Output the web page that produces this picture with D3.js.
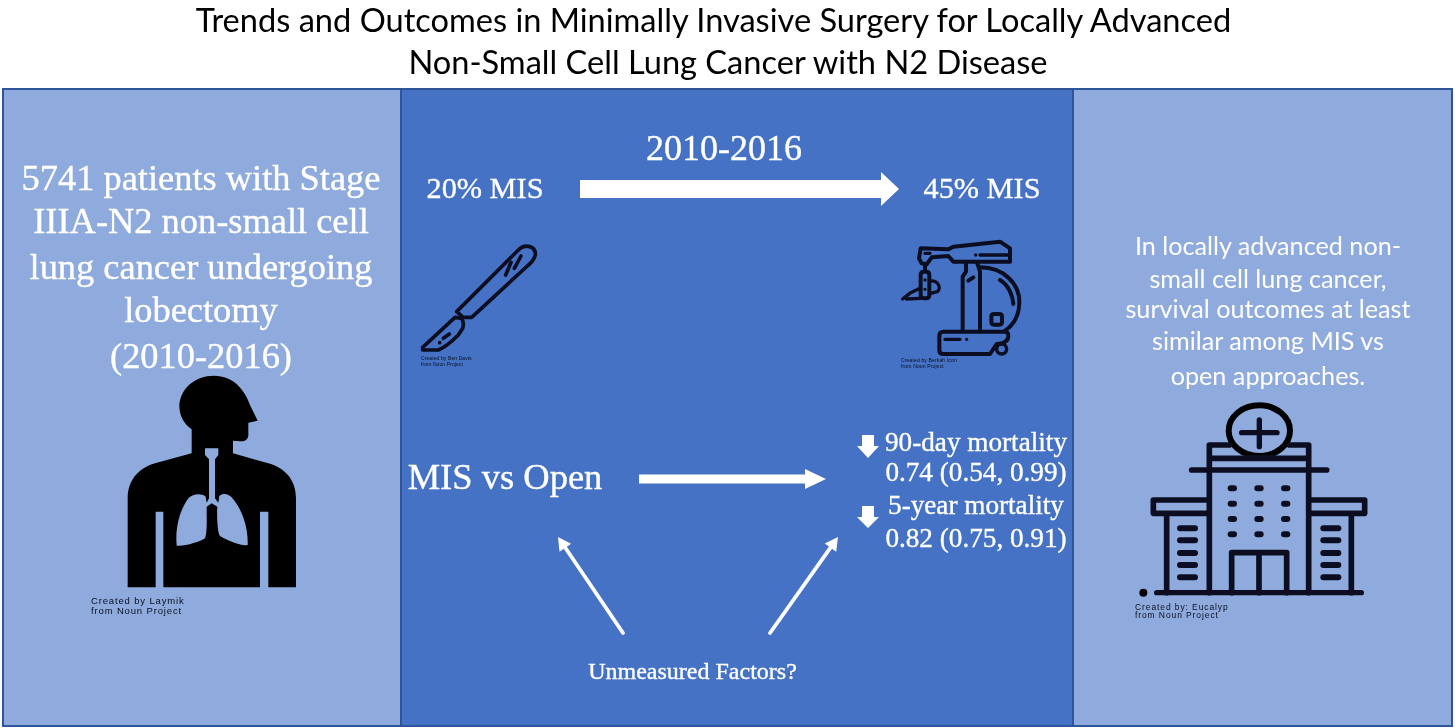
<!DOCTYPE html>
<html>
<head>
<meta charset="utf-8">
<script src="https://cdn.jsdelivr.net/npm/d3@7"></script>
<style>
    html, body { margin: 0; padding: 0; background: #fff; overflow: hidden; }
    svg { display: block; }
    .sans { font-family: Lato, sans-serif; }
    .serif { font-family: "Liberation Serif", serif; stroke: #fff; stroke-width: 0.35px; }
    .credit { font-family: "Liberation Sans", sans-serif; }
</style>
</head>
<body>
<div id="graph-container"></div>
<script>
// Text content of the figure
const titleLines = [
    "Trends and Outcomes in Minimally Invasive Surgery for Locally Advanced",
    "Non-Small Cell Lung Cancer with N2 Disease"
];
const cohortLines = [
    "5741 patients with Stage",
    "IIIA-N2 non-small cell",
    "lung cancer undergoing",
    "lobectomy",
    "(2010-2016)"
];
const conclusionLines = [
    "In locally advanced non-",
    "small cell lung cancer,",
    "survival outcomes at least",
    "similar among MIS vs",
    "open approaches."
];
const periodLabel = "2010-2016";
const misShareLabels = ["20% MIS", "45% MIS"];
const comparisonLabel = "MIS vs Open";
const factorsLabel = "Unmeasured Factors?";
const outcomeLines = [
    "90-day mortality",
    "0.74 (0.54, 0.99)",
    "5-year mortality",
    "0.82 (0.75, 0.91)"
];
const credits = {
    person: ["Created by Laymik", "from Noun Project"],
    scalpel: ["Created by Ben Davis", "from Noun Project"],
    robot: ["Created by Berkah Icon", "from Noun Project"],
    hospital: ["Created by: Eucalyp", "from Noun Project"]
};

const width = 1455;
const height = 728;
const light = "#8faadc";
const mid = "#4472c4";
const edge = "#2f5597";

const svg = d3.select("#graph-container").append("svg")
    .attr("width", width)
    .attr("height", height);

// slight softening, the source figure is a scaled-up bitmap
const defs = svg.append("defs");
defs.append("filter").attr("id", "soft")
    .attr("filterUnits", "userSpaceOnUse")
    .attr("x", 0).attr("y", 0).attr("width", width).attr("height", height)
    .append("feGaussianBlur").attr("stdDeviation", 0.7);

const g = svg.append("g").attr("filter", "url(#soft)");

// Panels
[[3, 398, light], [401, 672, mid], [1073, 379, light]].forEach(([x, w, fill]) => {
    g.append("rect")
        .attr("x", x).attr("y", 89).attr("width", w).attr("height", 637)
        .attr("fill", fill).attr("stroke", edge).attr("stroke-width", 2);
});

function textBlock(lines, cls, size, anchor, x, ys, fill) {
    g.selectAll(null)
        .data(lines)
        .enter().append("text")
        .attr("class", cls)
        .attr("font-size", size)
        .attr("text-anchor", anchor)
        .attr("fill", fill || "#fff")
        .attr("x", (d, i) => Array.isArray(x) ? x[i] : x)
        .attr("y", (d, i) => ys[i])
        .text(d => d);
}

textBlock(titleLines, "sans", 32.6, "middle", [713.5, 728], [32, 74], "#000");
textBlock(cohortLines, "serif", 36.4, "middle", 201, [190, 233, 279, 322, 368]);
textBlock(conclusionLines, "sans", 25.2, "middle", 1268, [255, 288, 318, 350, 385]);

textBlock([periodLabel], "serif", 36, "middle", 724, [160]);
textBlock(misShareLabels, "serif", 30.3, "middle", [485, 982], [198, 198]);
textBlock([comparisonLabel], "serif", 36.5, "middle", 505, [489]);
textBlock([factorsLabel], "serif", 24, "middle", 692.5, [679]);
textBlock(outcomeLines, "serif", 27.2, "middle", 976, [451, 481, 514, 547]);

// Block arrows
const blockArrow = d3.line();
function hArrow(x0, x1, tip, y, half, headHalf) {
    g.append("path")
        .attr("d", blockArrow([[x0, y - half], [x1, y - half], [x1, y - headHalf], [tip, y],
            [x1, y + headHalf], [x1, y + half], [x0, y + half]]) + "Z")
        .attr("fill", "#fff");
}
hArrow(580, 881, 899, 189, 9, 17);
hArrow(639, 805, 826, 479, 4.5, 10);

function downArrow(x, y0, y1, tip) {
    g.append("path")
        .attr("d", blockArrow([[x - 6, y0], [x + 6, y0], [x + 6, y1], [x + 11, y1], [x, tip],
            [x - 11, y1], [x - 6, y1]]) + "Z")
        .attr("fill", "#fff");
}
downArrow(868, 435, 446, 458);
downArrow(868, 506, 517, 528);

// Thin arrows from the unmeasured factors
function thinArrow(x0, y0, x1, y1) {
    const a = Math.atan2(y1 - y0, x1 - x0);
    const bx = x1 - 13 * Math.cos(a), by = y1 - 13 * Math.sin(a);
    g.append("line")
        .attr("x1", x0).attr("y1", y0).attr("x2", bx).attr("y2", by)
        .attr("stroke", "#fff").attr("stroke-width", 3.8).attr("stroke-linecap", "round");
    g.append("path")
        .attr("d", blockArrow([[x1, y1],
            [bx - 7 * Math.sin(a), by + 7 * Math.cos(a)],
            [bx + 7 * Math.sin(a), by - 7 * Math.cos(a)]]) + "Z")
        .attr("fill", "#fff");
}
thinArrow(623, 633, 558, 537);
thinArrow(770, 633, 838, 537);

// Icons are drawn in coordinates 3x the page, same as the zoomed crops
function icon(ox, oy) {
    return g.append("g").attr("transform", `translate(${ox},${oy}) scale(${1 / 3})`);
}

// Person with lungs
const person = icon(60, 370);
person.append("path").attr("fill", "#000").attr("d",
    "M395,250 L395,178 C370,160 358,135 358,108 C360,55 405,17 462,17 C520,17 555,60 570,105 " +
    "L593,152 L565,158 L565,195 C565,208 555,215 540,214 L519,212 L519,250 " +
    "L625,280 C680,295 708,335 708,385 L708,652 L625,652 L625,425 L600,425 L600,652 " +
    "L310,652 L310,425 L287,425 L287,652 L203,652 L203,385 C203,335 232,295 285,280 Z");
person.append("path").attr("fill", light).attr("d",
    "M435,235 L475,235 L475,255 L465,268 L465,385 L475,398 L478,378 C490,368 505,372 515,382 " +
    "C545,415 565,470 563,525 C545,530 500,510 480,498 C472,490 470,430 472,410 L455,400 " +
    "L440,410 C440,440 442,490 435,505 C420,515 375,530 350,527 C345,470 360,420 385,385 " +
    "C400,370 425,370 437,380 L440,398 L447,385 L447,268 L435,255 Z");

// Scalpel
const scalpel = icon(410, 230);
const lineIcon = (sel, d, w) => sel.append("path").attr("d", d)
    .attr("fill", "none").attr("stroke", "#0a1020")
    .attr("stroke-width", w).attr("stroke-linecap", "round").attr("stroke-linejoin", "round");
lineIcon(scalpel, "M140,245 L325,60 C345,40 378,48 376,75 C372,90 362,100 352,108 L185,262 L160,262 Z", 11);
lineIcon(scalpel, "M135,262 L155,265 C160,275 162,285 158,295 L145,315 C125,335 105,352 85,360 L38,360 L38,352 Z", 11);
lineIcon(scalpel, "M303,97 L287,135 M333,78 L313,115 M118,312 L100,325 M89,338 L89,338", 11);

// Robot
const robot = icon(890, 230);
lineIcon(robot, "M92,55 L175,58 L190,50 L330,35 L360,55 L360,95 L190,95 L175,78 L125,82 L110,103 L95,100 L87,85 Z", 12);
lineIcon(robot, "M270,75 L355,75 M257,75 L257,75 M105,70 L120,70", 10);
lineIcon(robot, "M228,100 L228,125 L218,140 L218,300 M270,300 L270,125 L262,100 M235,152 L250,142", 12);
lineIcon(robot, "M270,112 C345,112 388,165 388,215 C388,255 370,285 345,302 M330,150 C355,165 368,195 370,222", 12);
lineIcon(robot, "M312,252 L328,252 Q336,252 336,260 L336,276 Q336,284 328,284 L312,284 Q304,284 304,276 L304,260 Q304,252 312,252 Z", 12);
lineIcon(robot, "M160,305 L345,305 Q355,305 355,318 Q355,340 320,342 L300,372 L160,372 Q148,372 148,360 L148,318 Q148,305 160,305 Z", 12);
lineIcon(robot, "M165,328 L210,328 M230,328 L230,328", 10);
robot.append("circle").attr("cx", 335).attr("cy", 357).attr("r", 15)
    .attr("fill", mid).attr("stroke", "#0a1020").attr("stroke-width", 10);
lineIcon(robot, "M105,103 L105,125 M102,125 L108,125 Q118,125 118,135 L118,195 Q118,205 108,205 L102,205 Q92,205 92,195 L92,135 Q92,125 102,125 Z", 12);
lineIcon(robot, "M105,150 L105,150 M105,178 L105,178 M120,153 C145,150 155,175 142,185 L122,190", 10);
lineIcon(robot, "M38,207 L62,188 L90,175 M50,207 L90,205", 10);

// Hospital
const hospital = icon(1130, 400);
const mirrorAt = 774;
hospital.append("ellipse").attr("cx", 388).attr("cy", 92).attr("rx", 92).attr("ry", 76)
    .attr("fill", "none").attr("stroke", "#050505").attr("stroke-width", 18);
lineIcon(hospital, "M388,60 L388,140 M335,98 L441,98", 16);
lineIcon(hospital, "M238,578 L238,135 L298,135 M478,135 L536,135 L536,578 M245,175 L530,175 M185,210 L590,210", 17);
lineIcon(hospital, "M80,578 L694,578", 16);
hospital.append("circle").attr("cx", 40).attr("cy", 578).attr("r", 12).attr("fill", "#050505");
lineIcon(hospital, "M235,300 L70,300 L70,340 L235,340 M110,340 L110,578", 17);
lineIcon(hospital, `M${mirrorAt - 235},300 L${mirrorAt - 70},300 L${mirrorAt - 70},340 L${mirrorAt - 235},340 M${mirrorAt - 110},340 L${mirrorAt - 110},578`, 17);
lineIcon(hospital, "M305,578 L305,458 L470,458 L470,578 M387,458 L387,578", 17);
[307, 387, 467].forEach(x => [265, 311, 357, 403].forEach(y => {
    lineIcon(hospital, `M${x - 5},${y} L${x + 5},${y}`, 18);
}));
[385, 421, 459, 495, 532].forEach(y => {
    lineIcon(hospital, `M150,${y} L195,${y}`, 18);
    lineIcon(hospital, `M580,${y} L625,${y}`, 18);
});

// Noun Project credits
function credit(lines, x, y, size, gap, spacing) {
    textBlock(lines, "credit", size, "start", x, [y, y + gap], "#0a1020");
    g.selectAll("text.credit").filter(function () { return !this.hasAttribute("letter-spacing"); })
        .attr("letter-spacing", spacing);
}
credit(credits.person, 91, 604, 9.5, 9.5, 0.85);
credit(credits.scalpel, 421, 360, 5, 6, 0.1);
credit(credits.robot, 901, 362, 5, 6, 0.15);
credit(credits.hospital, 1135, 610, 8.5, 8, 0.9);
</script>
</body>
</html>
